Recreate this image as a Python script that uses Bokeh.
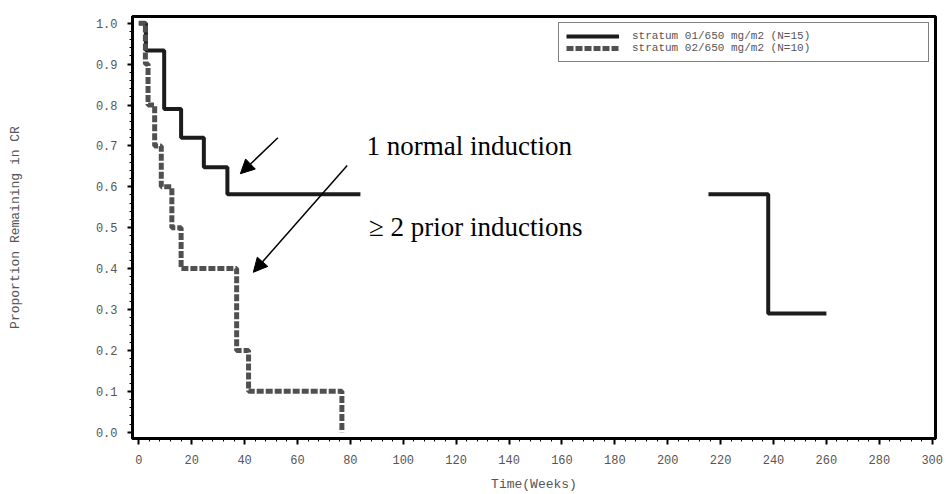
from bokeh.plotting import figure
from bokeh.models import (Range1d, FixedTicker, NumeralTickFormatter, Label,
                          Arrow, NormalHead, BoxAnnotation)
from bokeh.embed import file_html
from bokeh.resources import INLINE
import numpy as np

# ---- data ----
s1_label = "stratum 01/650 mg/m2 (N=15)"
s1_time = [0, 2.7, 9.6, 16.0, 24.6, 33.5, 238.0, 260.0]
s1_surv = [1.0, 0.933, 0.79, 0.72, 0.648, 0.582, 0.29, 0.29]

s2_label = "stratum 02/650 mg/m2 (N=10)"
s2_time = [0, 2.5, 3.5, 6.0, 8.5, 12.5, 16.0, 37.0, 41.5, 76.8]
s2_surv = [1.0, 0.9, 0.8, 0.7, 0.6, 0.5, 0.4, 0.2, 0.1, 0.0]

x_ticks = [0, 20, 40, 60, 80, 100, 120, 140, 160, 180, 200, 220, 240, 260, 280, 300]
y_ticks = [0.0, 0.1, 0.2, 0.3, 0.4, 0.5, 0.6, 0.7, 0.8, 0.9, 1.0]

note1 = "1 normal induction"
note2 = "\u2265 2 prior inductions"

# ---- figure ----
p = figure(width=946, height=494, output_backend="svg", toolbar_location=None,
           x_range=Range1d(-2.38, 301.25), y_range=Range1d(-0.0154, 1.0164),
           min_border_left=132, min_border_right=11, min_border_top=16,
           min_border_bottom=56)
p.grid.visible = False
p.background_fill_color = "white"
p.border_fill_color = "white"
p.outline_line_color = "black"
p.outline_line_width = 3

p.step(s1_time, s1_surv, mode="after", line_width=4, line_color="#1c1c1c",
       legend_label=s1_label)
p.step(s2_time, s2_surv, mode="after", line_width=5, line_color="#505050",
       line_dash="7 2", legend_label=s2_label)

mono = "Liberation Mono"
grey = "#555555"

xa = p.xaxis[0]
xa.ticker = FixedTicker(ticks=x_ticks, minor_ticks=list(range(0, 301, 4)))
xa.axis_label = "Time(Weeks)"
ya = p.yaxis[0]
ya.ticker = FixedTicker(ticks=y_ticks,
                        minor_ticks=[round(v, 2) for v in np.arange(0, 1.001, 0.02)])
ya.formatter = NumeralTickFormatter(format="0.0")
ya.axis_label = "Proportion Remaining in CR"

for ax in (xa, ya):
    ax.axis_line_color = "black"
    ax.axis_line_width = 3
    ax.major_tick_line_color = "black"
    ax.major_tick_line_width = 2
    ax.major_tick_in = 0
    ax.minor_tick_line_color = "black"
    ax.minor_tick_line_width = 1
    ax.minor_tick_in = 0
    ax.minor_tick_out = 3
    ax.major_label_text_font = mono
    ax.major_label_text_font_size = "12px"
    ax.major_label_text_color = grey
    ax.axis_label_text_font = mono
    ax.axis_label_text_font_size = "13px"
    ax.axis_label_text_font_style = "normal"
    ax.axis_label_text_color = grey

xa.major_tick_out = 6
xa.major_label_standoff = 10
xa.axis_label_standoff = 10
ya.major_tick_out = 5
ya.major_label_standoff = 10
ya.axis_label_standoff = 70

leg = p.legend[0]
leg.location = "top_right"
leg.margin = 6
leg.padding = 7
leg.spacing = 0
leg.glyph_width = 53
leg.glyph_height = 10
leg.label_height = 10
leg.label_width = 289
leg.label_standoff = 13
leg.label_text_font = mono
leg.label_text_font_size = "11px"
leg.label_text_color = grey
leg.border_line_color = "black"
leg.border_line_width = 1.5
leg.background_fill_color = "white"
leg.background_fill_alpha = 1

# white backing behind the lower note (hides the curve there)
p.add_layout(BoxAnnotation(left=83.8, right=215.4, bottom=0.476, top=0.598,
                           fill_color="white", fill_alpha=1.0, line_alpha=0))

p.add_layout(Label(x=86.1, y=0.699, text=note1, text_font="Liberation Serif",
                   text_font_size="27px", text_color="black",
                   text_baseline="alphabetic"))
p.add_layout(Label(x=87.0, y=0.501, text=note2, text_font="Liberation Serif",
                   text_font_size="27px", text_color="black",
                   text_baseline="alphabetic"))

p.add_layout(Arrow(end=NormalHead(size=14, fill_color="black", line_color="black"),
                   x_start=52.6, y_start=0.720, x_end=38.4, y_end=0.632,
                   line_color="black", line_width=1.5))
p.add_layout(Arrow(end=NormalHead(size=14, fill_color="black", line_color="black"),
                   x_start=78.8, y_start=0.652, x_end=43.3, y_end=0.391,
                   line_color="black", line_width=1.5))

open("out.html", "w").write(file_html(p, INLINE))
